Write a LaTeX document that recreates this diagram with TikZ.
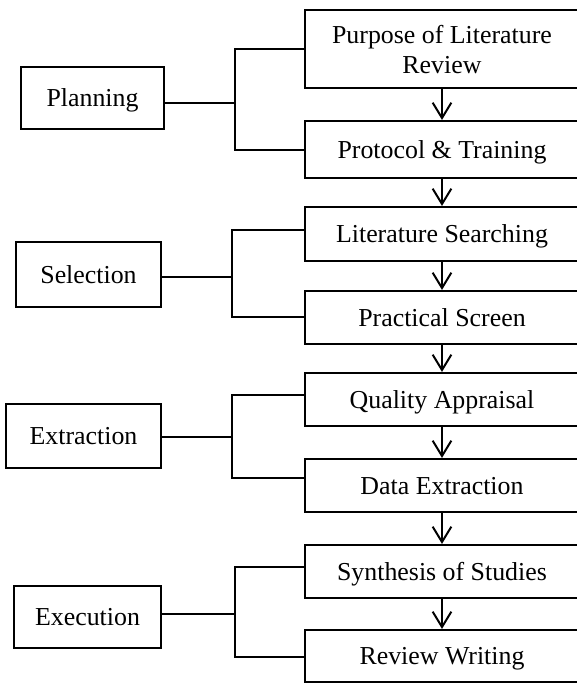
\documentclass[tikz,border=0pt]{standalone}
\usepackage{fontspec}
\setmainfont{Liberation Serif}
\usetikzlibrary{arrows.meta}
\begin{document}
\begin{tikzpicture}[x=0.75pt,y=-0.75pt,
  box/.style={draw=black,line width=1.6pt,align=center,inner sep=0pt,text depth=0pt,
    font=\fontsize{19.4}{22.5}\selectfont},
  rbox/.style={box,minimum width=205.5pt},
  conn/.style={draw=black,line width=1.5pt},
  flow/.style={draw=black,line width=1.5pt,
    -{Straight Barb[length=11.5pt,width=14pt,line width=1.5pt]}}]
\useasboundingbox (0,0) rectangle (577,683);
\clip (0,0) rectangle (577,683);

% right column
\node[rbox,minimum height=58.5pt] (pur) at (442,49) {Purpose of Literature\\Review};
\node[rbox,minimum height=42.75pt] (pro) at (442,149.5) {Protocol \& Training};
\node[rbox,minimum height=40.5pt] (lit) at (442,234) {Literature Searching};
\node[rbox,minimum height=39.75pt] (pra) at (442,317.5) {Practical Screen};
\node[rbox,minimum height=39.75pt] (qua) at (442,399.5) {Quality Appraisal};
\node[rbox,minimum height=39.75pt] (dat) at (442,485.5) {Data Extraction};
\node[rbox,minimum height=39.75pt] (syn) at (442,571.5) {Synthesis of Studies};
\node[rbox,minimum height=39pt] (rev) at (442,656) {Review Writing};

% left column
\node[box,minimum width=107.25pt,minimum height=46.5pt] (pla) at (92.5,98) {Planning};
\node[box,minimum width=108.75pt,minimum height=48.75pt] (sel) at (88.5,274.5) {Selection};
\node[box,minimum width=116.25pt,minimum height=48pt] (ext) at (83.5,436) {Extraction};
\node[box,minimum width=110.25pt,minimum height=46.5pt] (exe) at (87.5,617) {Execution};

% junctions
\coordinate (j1) at (235,103);
\coordinate (j2) at (232,277);
\coordinate (j3) at (232,437);
\coordinate (j4) at (235,614);

% brackets
\draw[conn] (pla.east |- j1) -- (j1);
\draw[conn] (pur.west) -| (j1 |- pro.west) -- (pro.west);

\draw[conn] (sel.east |- j2) -- (j2);
\draw[conn] (lit.west |- 0,230) -| (j2 |- 0,317) -- (pra.west |- 0,317);

\draw[conn] (ext.east |- j3) -- (j3);
\draw[conn] (qua.west |- 0,395) -| (j3 |- 0,478) -- (dat.west |- 0,478);

\draw[conn] (exe.east |- j4) -- (j4);
\draw[conn] (syn.west |- 0,567) -| (j4 |- 0,657) -- (rev.west |- 0,657);

% flow arrows
\draw[flow] (pur.south) -- (pro.north);
\draw[flow] (pro.south) -- (lit.north);
\draw[flow] (lit.south) -- (pra.north);
\draw[flow] (pra.south) -- (qua.north);
\draw[flow] (qua.south) -- (dat.north);
\draw[flow] (dat.south) -- (syn.north);
\draw[flow] (syn.south) -- (rev.north);
\end{tikzpicture}
\end{document}
